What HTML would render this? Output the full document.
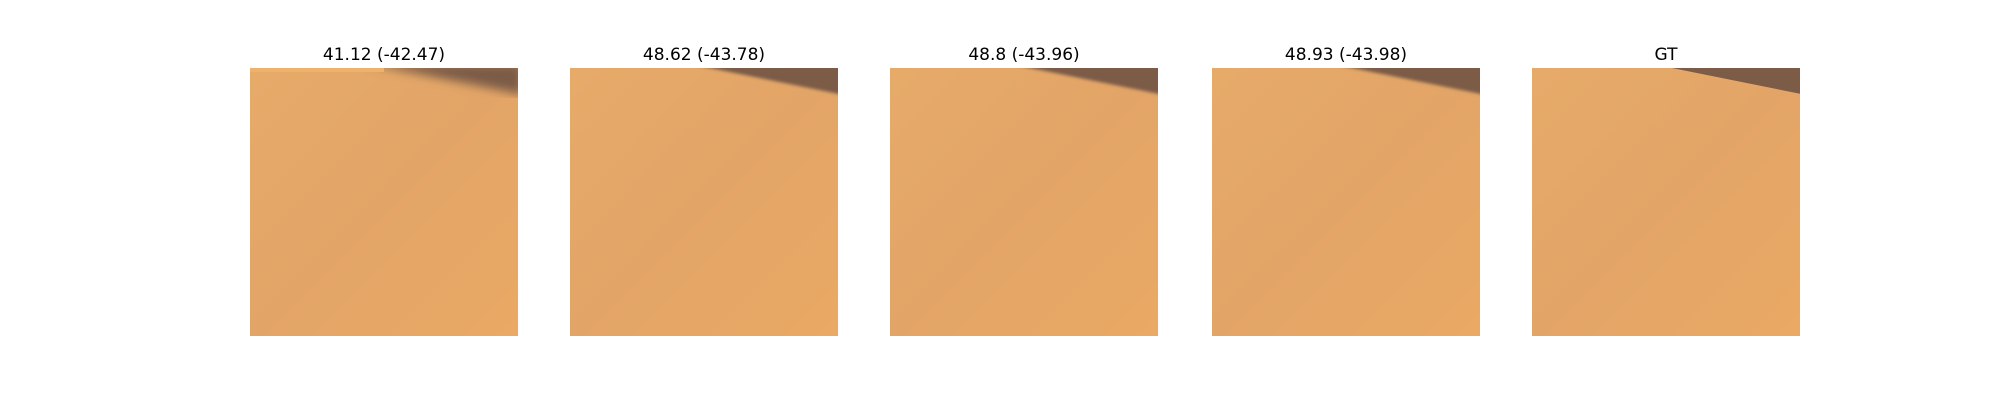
<!DOCTYPE html>
<html><head><meta charset="utf-8"><style>
body{margin:0;background:#fff;width:2000px;height:400px;overflow:hidden;font-family:"Liberation Sans","DejaVu Sans",sans-serif}
</style></head><body>
<svg width="2000" height="400" xmlns="http://www.w3.org/2000/svg">
<defs>
<linearGradient id="bg" x1="0" y1="0" x2="1" y2="1">
<stop offset="0" stop-color="#e6aa69"/><stop offset="0.5" stop-color="#e3a567"/><stop offset="1" stop-color="#eaa964"/>
</linearGradient>
<filter id="blur1"><feGaussianBlur stdDeviation="5"/></filter>
<filter id="blur2"><feGaussianBlur stdDeviation="1.5"/></filter>
</defs>
<g id="panels"></g>
</svg>
<script>
const titles = ["41.12 (-42.47)", "48.62 (-43.78)", "48.8 (-43.96)", "48.93 (-43.98)", "GT"];
const blurLevels = [2, 1, 1, 1, 0];
const lefts = [250, 570, 890, 1212, 1532];
const g = document.getElementById('panels');
const NS = "http://www.w3.org/2000/svg";
titles.forEach((t, i) => {
  const x = lefts[i], y = 68, w = 268, h = 268;
  const grp = document.createElementNS(NS, 'g');
  
  
  const cp = document.createElementNS(NS, 'clipPath');
  cp.setAttribute('id', 'c' + i);
  const cr = document.createElementNS(NS, 'rect');
  cr.setAttribute('x', x); cr.setAttribute('y', y); cr.setAttribute('width', w); cr.setAttribute('height', h);
  cp.appendChild(cr); grp.appendChild(cp);
  const inner = document.createElementNS(NS, 'g');
  inner.setAttribute('clip-path', 'url(#c' + i + ')');
  const r = document.createElementNS(NS, 'rect');
  r.setAttribute('x', x); r.setAttribute('y', y); r.setAttribute('width', w); r.setAttribute('height', h);
  r.setAttribute('fill', 'url(#bg)');
  
  
  inner.appendChild(r);
  const p = document.createElementNS(NS, 'polygon');
  p.setAttribute('points', `${x + w * 0.43},${y - 5} ${x + w + 5},${y - 5} ${x + w + 5},${y + h * 0.1} `);
  p.setAttribute('fill', '#7c5c47');
  if (blurLevels[i] === 2) p.setAttribute('filter', 'url(#blur1)');
  else if (blurLevels[i] === 1) p.setAttribute('filter', 'url(#blur2)');
  
  
  inner.appendChild(p);
  if (i === 0) {
    const band = document.createElementNS(NS, 'rect');
    band.setAttribute('x', x); band.setAttribute('y', y); band.setAttribute('width', w * 0.5); band.setAttribute('height', 4);
    band.setAttribute('fill', '#efb26c');
    inner.appendChild(band);
  }
  grp.appendChild(inner);
  const tx = document.createElementNS(NS, 'text');
  tx.setAttribute('x', x + w / 2); tx.setAttribute('y', 60);
  tx.setAttribute('text-anchor', 'middle'); tx.setAttribute('font-size', '17');
  tx.setAttribute('fill', '#000');
  tx.setAttribute('font-family', '"DejaVu Sans","Liberation Sans",sans-serif');
  
  
  tx.textContent = t;
  grp.appendChild(tx);
  g.appendChild(grp);
});
</script>
</body></html>
